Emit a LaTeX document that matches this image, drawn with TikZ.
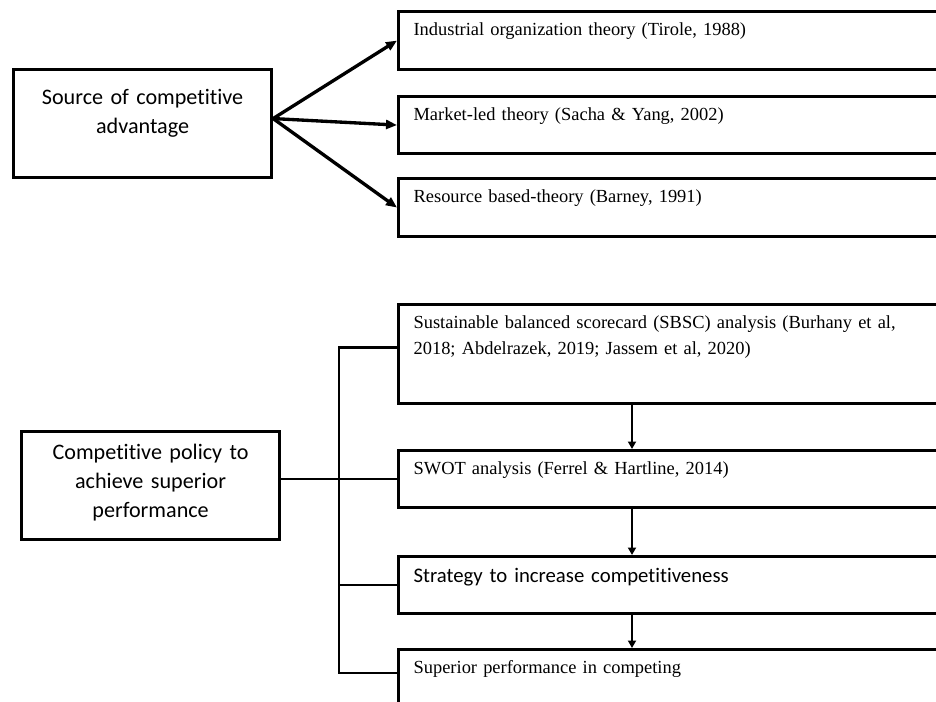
\documentclass[tikz,border=0pt]{standalone}
\usepackage{fontspec}
\setmainfont{Liberation Serif}
\newfontfamily\calibri[Ligatures=CommonOff]{Carlito}
\usetikzlibrary{arrows.meta,calc}

\begin{document}
\begin{tikzpicture}[
  x=0.02cm, y=-0.02cm,
  box/.style={draw, line width=1.8pt, anchor=north west, inner xsep=0.3cm, inner ysep=0pt, text width=11.06cm, align=left, text height=0.48cm, text depth=0.66cm, font=\fontsize{10.5}{14.7}\selectfont},
  lbox/.style={draw, line width=1.8pt, anchor=north west, inner xsep=0.08cm, inner ysep=0pt, text width=5cm, align=center, font=\calibri\fontsize{12.6}{16.4}\selectfont},
  arr/.style={-{Triangle[length=0.22cm,width=0.18cm]}, line width=1.9pt},
  down/.style={-{Triangle[length=0.15cm,width=0.16cm]}, line width=1.4pt},
  bus/.style={line width=1.4pt}
]
  \useasboundingbox (0,0) rectangle (936,702);
  \clip (0,0) rectangle (936,702);

  \node[lbox, text height=0.7cm, text depth=1.46cm] (src) at (12,68) {Source of competitive\\advantage};
  \node[box, text depth=0.68cm] (ind) at (397,10)  {Industrial organization theory (Tirole, 1988)};
  \node[box]                    (mkt) at (397,95)  {Market-led theory (Sacha \& Yang, 2002)};
  \node[box, text depth=0.68cm] (res) at (397,177) {Resource based-theory (Barney, 1991)};
  \draw[arr] ([yshift=0.1cm]src.east) -- (ind.west);
  \draw[arr] ([yshift=0.1cm]src.east) -- (mkt.west);
  \draw[arr] ([yshift=0.1cm]src.east) -- (res.west);

  \node[lbox, text height=0.56cm, text depth=1.6cm] (comp) at (20,430) {Competitive policy to\\achieve superior\\performance};
  \node[box, text depth=1.5cm] (sbsc) at (397,303) {Sustainable balanced scorecard (SBSC) analysis (Burhany et al,\\2018; Abdelrazek, 2019; Jassem et al, 2020)};
  \node[box] (swot) at (397,449) {SWOT analysis (Ferrel \& Hartline, 2014)};
  \node[box, font=\calibri\fontsize{11.8}{14.7}\selectfont, text height=0.52cm, text depth=0.62cm] (strat) at (397,555) {Strategy to increase competitiveness};
  \node[box, text depth=2.4cm] (sup) at (397,648) {Superior performance in competing};

  \coordinate (jn) at (339,478);
  \coordinate (ax) at (632,0);
  \draw[bus] (comp.east |- swot.west) -- (swot.west);
  \draw[bus] ([yshift=0.13cm]sbsc.west) -| (jn) |- ($(sup.north west)+(0,25)$);
  \draw[bus] (jn |- strat.west) -- (strat.west);
  \draw[down] (sbsc.south -| ax) -- (swot.north -| ax);
  \draw[down] (swot.south -| ax) -- (strat.north -| ax);
  \draw[down] (strat.south -| ax) -- (sup.north -| ax);
\end{tikzpicture}
\end{document}
